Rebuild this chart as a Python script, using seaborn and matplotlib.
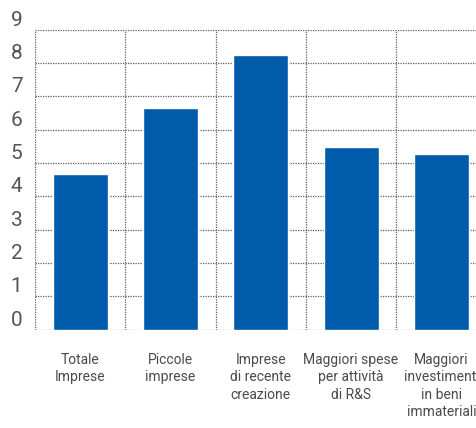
import matplotlib
matplotlib.use("Agg")
import matplotlib.pyplot as plt
import numpy as np
import pandas as pd
import seaborn as sns

categories = [
    "Totale\nImprese",
    "Piccole\nimprese",
    "Imprese\ndi recente\ncreazione",
    "Maggiori spese\nper attività\ndi R&S",
    "Maggiori\ninvestimenti\nin beni\nimmateriali",
]
values = [4.66, 6.65, 8.23, 5.47, 5.26]
y_ticks = list(range(0, 10))

sns.set_theme(style="white")
plt.rcParams["font.family"] = ["Roboto", "DejaVu Sans"]

df = pd.DataFrame({"cat": categories, "val": values})

fig = plt.figure(figsize=(4.76, 4.28), dpi=100)
ax = fig.add_axes([35 / 476, 1 - 329.5 / 428, 451.5 / 476, 300 / 428])

sns.barplot(data=df, x="cat", y="val", color="#005BAA", saturation=1, width=0.61, ax=ax)

ax.set_xlim(-0.5, 4.5)
ax.set_ylim(0, 9)
ax.set_yticks(y_ticks)
ax.set_xticks(np.arange(-0.5, 5, 1), minor=True)
for s in ax.spines.values():
    s.set_visible(False)
ax.grid(False)
grid_kw = dict(linestyle=(0, (1, 1)), color="#5e5e5e", lw=0.9)
ax.grid(True, axis="y", which="major", **grid_kw)
ax.grid(True, axis="x", which="minor", **grid_kw)
ax.set_axisbelow(True)
ax.tick_params(axis="both", which="both", length=0)
ax.tick_params(axis="y", labelsize=15, labelcolor="#555555", pad=9)
ax.tick_params(axis="x", labelsize=10, labelcolor="#4a4a4a", pad=17)
for lbl in ax.get_yticklabels():
    lbl.set_verticalalignment("bottom")
for lbl in ax.get_xticklabels():
    lbl.set_linespacing(1.3)
ax.set_xlabel("")
ax.set_ylabel("")

fig.savefig("out.png", dpi=100)
